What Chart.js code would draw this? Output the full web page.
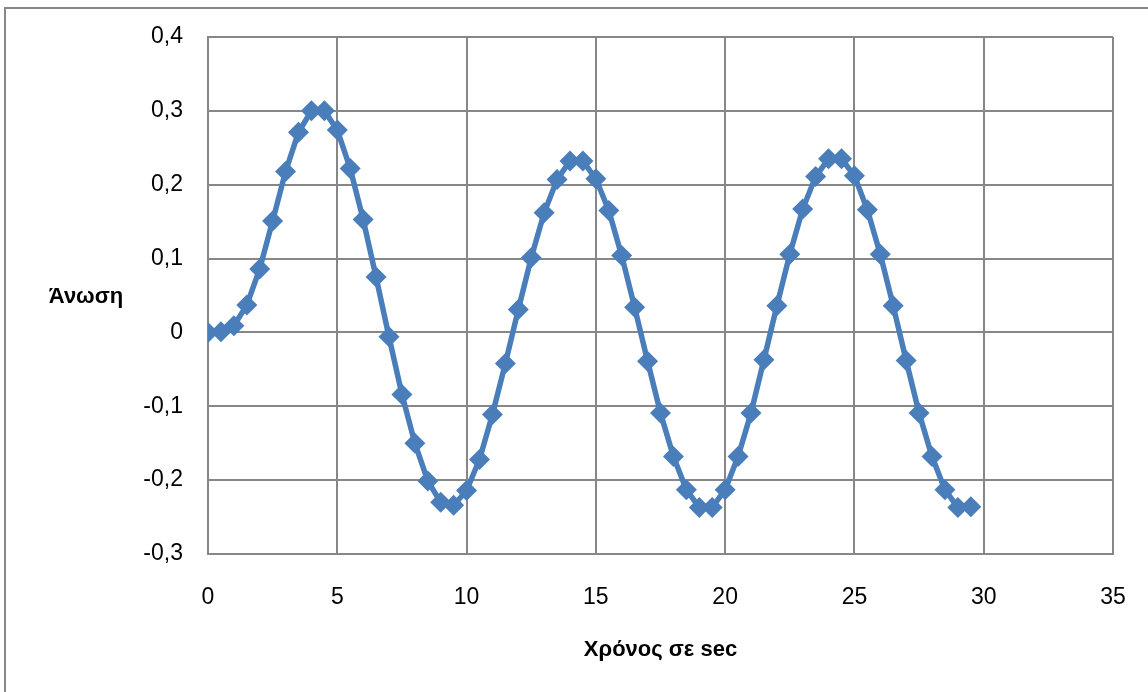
<!DOCTYPE html>
<html>
<head>
<meta charset="utf-8">
<script src="https://cdn.jsdelivr.net/npm/chart.js@4"></script>
<style>
    html, body { margin: 0; padding: 0; background: #fff; overflow: hidden; }
    canvas { display: block; }
</style>
</head>
<body>
<canvas id="liftChart" width="1148" height="692"></canvas>
<script>
const times = [0, 0.5, 1, 1.5, 2, 2.5, 3, 3.5, 4, 4.5, 5, 5.5, 6, 6.5, 7, 7.5, 8, 8.5, 9, 9.5,
    10, 10.5, 11, 11.5, 12, 12.5, 13, 13.5, 14, 14.5, 15, 15.5, 16, 16.5, 17, 17.5, 18, 18.5, 19, 19.5,
    20, 20.5, 21, 21.5, 22, 22.5, 23, 23.5, 24, 24.5, 25, 25.5, 26, 26.5, 27, 27.5, 28, 28.5, 29, 29.5];

const lift = [0, 0.001, 0.009, 0.037, 0.086, 0.151, 0.218, 0.271, 0.300, 0.300,
    0.274, 0.222, 0.153, 0.075, -0.006, -0.084, -0.150, -0.201, -0.230, -0.234,
    -0.214, -0.172, -0.111, -0.042, 0.031, 0.101, 0.162, 0.207, 0.232, 0.232,
    0.208, 0.165, 0.104, 0.034, -0.039, -0.109, -0.168, -0.213, -0.237, -0.237,
    -0.213, -0.168, -0.109, -0.037, 0.036, 0.106, 0.167, 0.211, 0.235, 0.235,
    0.212, 0.166, 0.106, 0.036, -0.038, -0.109, -0.168, -0.213, -0.237, -0.236];

const xTicks = [0, 5, 10, 15, 20, 25, 30, 35];
const yTicks = [-0.3, -0.2, -0.1, 0, 0.1, 0.2, 0.3, 0.4];

const xTitle = 'Χρόνος σε sec';
const yTitle = 'Άνωση';

const gridColor = '#878787';
const lineBlue = '#4a7ebb';
const fontFamily = '"Liberation Sans", Arial, sans-serif';

// outer frame plus the two axis titles (Excel puts the y title horizontal)
const frameAndTitles = {
    id: 'frameAndTitles',
    afterDraw(chart) {
        const ctx = chart.ctx;
        const area = chart.chartArea;
        ctx.save();
        ctx.strokeStyle = gridColor;
        ctx.lineWidth = 2;
        ctx.strokeRect(5, 8, 1160, 700);

        ctx.fillStyle = '#000';
        ctx.font = 'bold 22px ' + fontFamily;
        ctx.textBaseline = 'middle';
        ctx.textAlign = 'center';
        ctx.fillText(yTitle, 86, 297);
        ctx.fillText(xTitle, (area.left + area.right) / 2, 650);
        ctx.restore();
    }
};

function setupChart() {
    const ctx = document.getElementById('liftChart').getContext('2d');
    const points = times.map((t, i) => ({ x: t, y: lift[i] }));

    new Chart(ctx, {
        type: 'line',
        data: {
            datasets: [{
                label: yTitle,
                data: points,
                borderColor: lineBlue,
                backgroundColor: lineBlue,
                borderWidth: 5.5,
                pointStyle: 'rectRot',
                pointRadius: 10.5,
                pointHoverRadius: 10.5,
                pointBorderWidth: 0,
                tension: 0
            }]
        },
        options: {
            responsive: false,
            animation: false,
            layout: { padding: { left: 0, top: 37, right: 35, bottom: 0 } },
            plugins: {
                legend: { display: false },
                tooltip: { enabled: false }
            },
            scales: {
                x: {
                    type: 'linear',
                    min: 0,
                    max: 35,
                    afterBuildTicks: scale => { scale.ticks = xTicks.map(v => ({ value: v })); },
                    afterFit: scale => {
                        scale.height = 138;
                        scale.paddingLeft = 0;
                        scale.paddingRight = 0;
                    },
                    grid: { color: gridColor, lineWidth: 2, drawTicks: false },
                    border: { color: gridColor, width: 2 },
                    ticks: {
                        color: '#000',
                        padding: 30,
                        maxRotation: 0,
                        font: { family: fontFamily, size: 23 }
                    }
                },
                y: {
                    min: -0.3,
                    max: 0.4,
                    afterBuildTicks: scale => { scale.ticks = yTicks.map(v => ({ value: v })); },
                    afterFit: scale => {
                        scale.width = 208;
                        scale.paddingTop = 0;
                        scale.paddingBottom = 0;
                    },
                    grid: { color: gridColor, lineWidth: 2, drawTicks: false },
                    border: { color: gridColor, width: 2 },
                    ticks: {
                        color: '#000',
                        padding: 25,
                        font: { family: fontFamily, size: 23 },
                        callback: v => (Math.abs(v) < 1e-9 ? '0' : v.toFixed(1).replace('.', ','))
                    }
                }
            }
        },
        plugins: [frameAndTitles]
    });
}

setupChart();
</script>
</body>
</html>
